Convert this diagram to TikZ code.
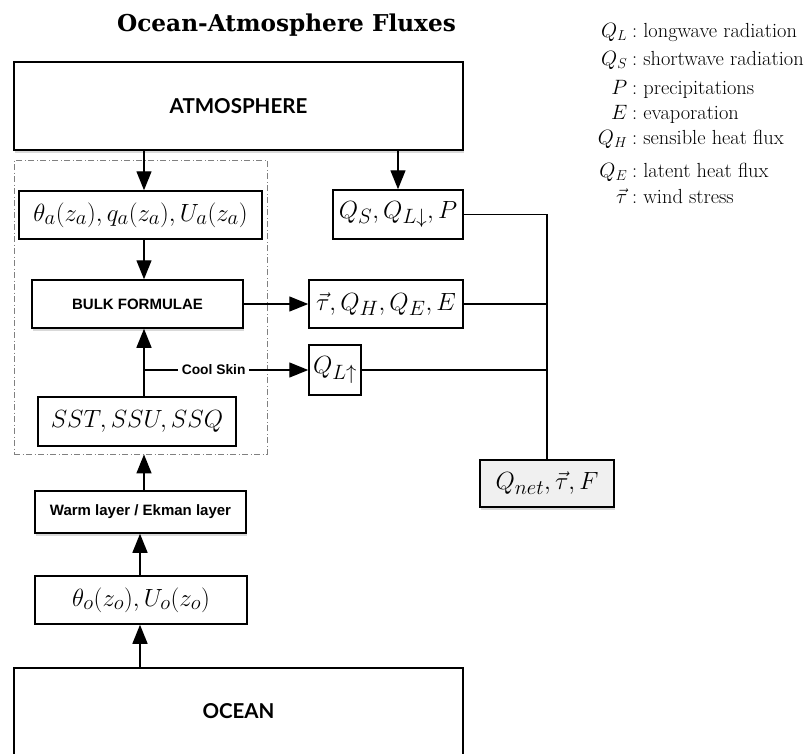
\documentclass[tikz,border=0pt]{standalone}
\usepackage{amsmath}
\usepackage{fontspec}
\newfontfamily\titlefont{DejaVu Serif}
\newfontfamily\gillfont{Lato}
\newfontfamily\helvfont{Liberation Sans}
\usetikzlibrary{positioning, arrows.meta, shadows, backgrounds}

\begin{document}
\begin{tikzpicture}[
  x=1pt, y=-1pt,
  line width=1.4pt,
  >={Triangle[length=19pt, width=15pt]},
  box/.style={
    draw, line width=1.5pt, fill=white, inner sep=0pt, align=center,
    font=\fontsize{28.5}{32}\selectfont
  },
  mathsize/.style={font=\fontsize{#1}{#1}\selectfont},
  shadebox/.style={
    box, drop shadow={shadow xshift=0.5pt, shadow yshift=-3pt, opacity=0.3}
  },
  bigbox/.style={shadebox, font=\gillfont\bfseries\fontsize{20.5}{24}\selectfont},
  tagbox/.style={shadebox, font=\helvfont\bfseries\fontsize{15}{18}\selectfont},
  skinbg/.style={
    draw=gray, line width=0.8pt, inner sep=0pt,
    dash pattern=on 6pt off 2.5pt on 1pt off 2.5pt
  },
  edgelabel/.style={font=\helvfont\bfseries\fontsize{13.8}{16}\selectfont, fill=white, inner sep=4pt},
  legend/.style={font=\fontsize{20.4}{24}\selectfont, inner sep=0pt}
]
\clip (0,0) rectangle (808,753);

\node[font=\titlefont\bfseries\fontsize{23.2}{27}\selectfont, anchor=base] (title) at (286.5,31) {Ocean-Atmosphere Fluxes};

% air-sea interface block
\node[skinbg, minimum width=253pt, minimum height=294pt] (skin) at (140.5,307) {};

\node[bigbox, minimum width=449pt, minimum height=88pt] (atm) at (238.5,106) {ATMOSPHERE};
\node[box, minimum width=243pt, minimum height=48pt] (thetaa) at (140.5,215) {$\theta_a(z_a),q_a(z_a),U_a(z_a)$};
\node[tagbox, minimum width=211pt, minimum height=48pt] (bulk) at (137.5,304) {BULK FORMULAE};
\node[box, minimum width=198pt, minimum height=49pt] (sst) at (137,421.5) {$SST,SSU,SSQ$};

\node[box, mathsize=30.5, minimum width=130pt, minimum height=49pt] (qs) at (398,214.5) {$Q_S,Q_{L\downarrow},P$};
\node[box, mathsize=29.5, minimum width=154pt, minimum height=48pt] (tau) at (386,304) {$\vec{\tau},Q_H,Q_E,E$};
\node[box, minimum width=52pt, minimum height=50pt] (qlup) at (335,370) {$Q_{L\uparrow}$};
\node[shadebox, mathsize=30.5, fill=gray!12, minimum width=134pt, minimum height=47pt] (qnet) at (547,483.5) {$Q_{net},\vec{\tau},F$};

\node[tagbox, font=\helvfont\bfseries\fontsize{15}{18}\selectfont, minimum width=211pt, minimum height=42pt] (warm) at (140.5,512) {Warm layer / Ekman layer};
\node[box, mathsize=27.5, minimum width=212pt, minimum height=48pt] (thetao) at (141,600) {$\theta_o(z_o),U_o(z_o)$};
\node[bigbox, minimum width=449pt, minimum height=110pt, anchor=north] (ocean) at (238.5,667) {};
\node[font=\gillfont\bfseries\fontsize{20.5}{24}\selectfont] (oceanlbl) at (238.5,711) {OCEAN};

\coordinate (col) at (144,0);
\coordinate (colo) at (140,0);

\draw[->] (atm.south -| col) -- (thetaa.north -| col);
\draw[->] (thetaa.south -| col) -- (bulk.north -| col);
\draw[->] (sst.north -| col) -- (bulk.south -| col);
\draw[->] (col |- qlup.west) -- node[pos=0.424, edgelabel] (coolskin) {Cool Skin} (qlup.west);
\draw[->] (qs.north |- atm.south) -- (qs.north);
\draw[->] (bulk.east) -- (tau.west);
\draw[->] (warm.north -| col) -- (skin.south -| col);
\draw[->] (thetao.north -| colo) -- (warm.south -| colo);
\draw[->] (ocean.north -| colo) -- (thetao.south -| colo);

\draw (qs.east) -| (qnet.north);
\draw (tau.east) -- (tau.east -| qnet.north);
\draw (qlup.east) -- (qlup.east -| qnet.north);

% legend
\foreach \sym/\txt/\y [count=\i] in {Q_L/longwave radiation/37, Q_S/shortwave radiation/65,
    P/precipitations/94, E/evaporation/119, Q_H/sensible heat flux/144,
    Q_E/latent heat flux/177, \vec{\tau}/wind stress/203} {
  \node[legend, anchor=base east] (sym\i) at (628,\y) {$\sym$};
  \node[legend, anchor=base west] (txt\i) at (628,\y) {\,:~\txt};
}

\end{tikzpicture}
\end{document}
